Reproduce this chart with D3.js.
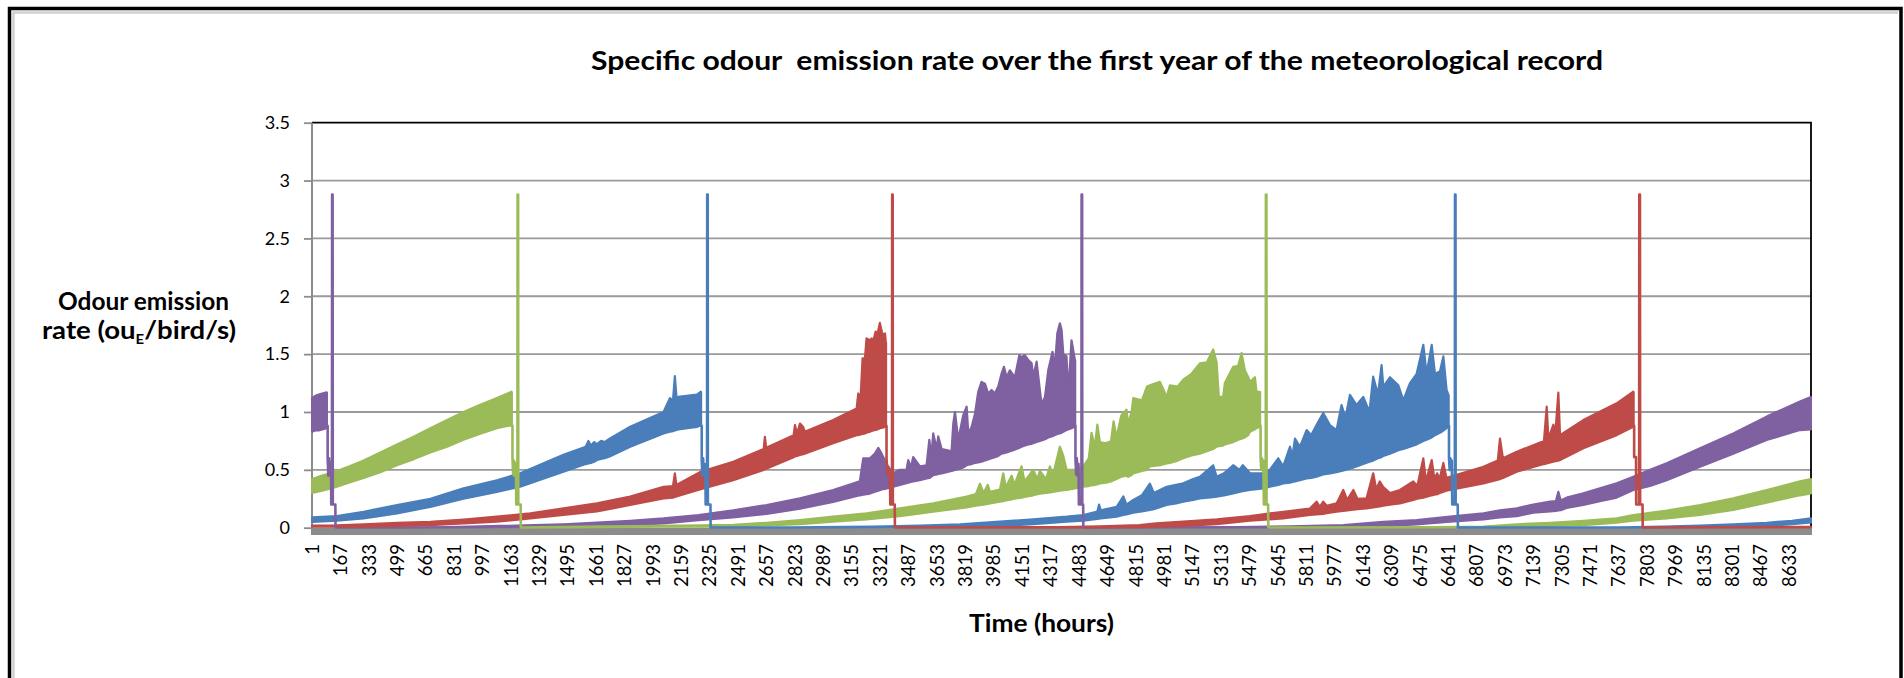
<!DOCTYPE html>
<html><head><meta charset="utf-8">
<script src="https://cdn.jsdelivr.net/npm/d3@7"></script>
<style>html,body{margin:0;padding:0;background:#fff;overflow:hidden}</style>
</head><body><svg id="c" width="1904" height="678"></svg>
<script>
// ---------------- DATA ----------------
const hourCount = 8760;
const hourTickLabels = [1,167,333,499,665,831,997,1163,1329,1495,1661,1827,1993,2159,2325,2491,2657,2823,2989,3155,3321,3487,3653,3819,3985,4151,4317,4483,4649,4815,4981,5147,5313,5479,5645,5811,5977,6143,6309,6475,6641,6807,6973,7139,7305,7471,7637,7803,7969,8135,8301,8467,8633];
const yTickValues = [0,0.5,1,1.5,2,2.5,3,3.5];
const seriesNames = ["Purple", "Green", "Blue", "Red"];
const seriesColors = {Purple:"#7f60a1", Green:"#9bbb59", Blue:"#4a7ebb", Red:"#be4b48"};

// bands: [hour, lower envelope, upper envelope] of the daily oscillation
const purpleBand1 = [[1,0.83,1.12],[20,0.84,1.14],[40,0.84,1.15],[60,0.85,1.16],[86,0.86,1.17]];
const purpleBand2 = [[140,0,0.002],[500,0.001,0.004],[800,0.002,0.006],[1100,0.005,0.015],[1300,0.008,0.022],[1470,0.009,0.03],[1665,0.014,0.045],[1860,0.023,0.06],[2055,0.037,0.08],[2260,0.065,0.11],[2462,0.09,0.15],[2657,0.12,0.196],[2852,0.165,0.253],[3046,0.222,0.326],[3202,0.28,0.40],
 [3222,0.285,0.60],[3241,0.29,0.60],[3261,0.295,0.60],[3290,0.31,0.64],[3310,0.32,0.69],[3329,0.33,0.64],[3349,0.335,0.58],[3358,0.34,0.55],[3397,0.354,0.47],[3436,0.37,0.50],[3475,0.385,0.50],[3485,0.39,0.585],[3500,0.395,0.52],[3514,0.40,0.61],[3553,0.41,0.53],[3592,0.425,0.54],[3608,0.43,0.76],[3620,0.44,0.62],[3631,0.455,0.815],[3651,0.46,0.68],[3660,0.465,0.79],[3680,0.47,0.68],[3709,0.48,0.67],[3738,0.49,0.66],[3748,0.495,0.90],[3758,0.50,1.0],[3777,0.505,0.76],[3806,0.52,0.97],[3826,0.54,1.046],[3836,0.545,0.815],[3855,0.55,0.87],[3875,0.56,0.985],[3894,0.565,1.175],[3913,0.57,1.26],[3933,0.58,1.245],[3952,0.59,1.16],[3972,0.60,1.19],[3991,0.61,1.16],[4011,0.62,1.22],[4030,0.64,1.33],[4044,0.645,1.39],[4060,0.65,1.30],[4079,0.66,1.36],[4108,0.675,1.30],[4134,0.69,1.49],[4147,0.70,1.475],[4167,0.71,1.49],[4186,0.72,1.45],[4206,0.725,1.42],[4215,0.73,1.30],[4235,0.74,1.435],[4254,0.75,1.19],[4264,0.755,1.07],[4284,0.765,1.13],[4303,0.78,1.36],[4328,0.79,1.52],[4342,0.80,1.39],[4356,0.81,1.68],[4371,0.815,1.766],[4381,0.82,1.71],[4391,0.83,1.50],[4410,0.844,1.48],[4420,0.85,1.16],[4439,0.86,1.62],[4453,0.87,1.50],[4459,0.873,1.45]];
const purpleBand3 = [[4508,0,0.002],[5400,0.002,0.005],[5715,0.003,0.012],[6027,0.005,0.023],[6261,0.014,0.05],[6456,0.029,0.066],[6651,0.052,0.095],[6846,0.072,0.124],[6942,0.09,0.15],[7041,0.10,0.167],[7137,0.13,0.20],[7236,0.14,0.225],[7270,0.145,0.23],[7284,0.15,0.31],[7298,0.152,0.235],[7332,0.17,0.26],[7430,0.196,0.297],[7527,0.23,0.34],[7625,0.26,0.383],[7722,0.326,0.44],[7820,0.36,0.50],[7917,0.41,0.556],[8112,0.527,0.686],[8306,0.64,0.815],[8501,0.758,0.96],[8696,0.844,1.09],[8760,0.85,1.13]];

const greenBand1 = [[1,0.30,0.42],[60,0.32,0.45],[146,0.355,0.49],[220,0.39,0.53],[302,0.43,0.58],[400,0.48,0.65],[497,0.54,0.72],[600,0.595,0.79],[692,0.65,0.86],[790,0.70,0.93],[886,0.76,1.0],[980,0.81,1.06],[1081,0.86,1.12],[1167,0.887,1.175]];
const greenBand2 = [[1221,0,0.003],[1450,0.003,0.008],[1700,0.005,0.012],[2000,0.008,0.016],[2267,0.01,0.02],[2462,0.012,0.025],[2657,0.02,0.043],[2852,0.03,0.066],[3046,0.052,0.095],[3241,0.072,0.124],[3436,0.10,0.167],[3631,0.138,0.21],[3826,0.176,0.27],[3880,0.19,0.29],[3904,0.195,0.38],[3925,0.20,0.30],[3950,0.205,0.37],[3962,0.21,0.31],[4021,0.225,0.33],[4040,0.23,0.47],[4055,0.235,0.35],[4089,0.245,0.45],[4105,0.25,0.37],[4147,0.26,0.53],[4165,0.265,0.40],[4215,0.28,0.50],[4240,0.29,0.42],[4254,0.295,0.49],[4290,0.30,0.42],[4313,0.305,0.53],[4330,0.31,0.45],[4371,0.32,0.70],[4391,0.325,0.62],[4410,0.326,0.50],[4459,0.34,0.50],[4508,0.354,0.53],[4540,0.36,0.60],[4556,0.365,0.82],[4575,0.37,0.70],[4590,0.375,0.89],[4605,0.383,0.74],[4640,0.39,0.73],[4670,0.40,0.75],[4685,0.41,0.92],[4702,0.42,0.78],[4730,0.44,0.97],[4760,0.45,1.02],[4770,0.44,0.90],[4790,0.455,1.0],[4800,0.47,1.12],[4850,0.49,1.10],[4880,0.50,1.22],[4897,0.53,1.23],[4956,0.54,1.26],[4995,0.556,1.13],[5014,0.56,1.23],[5060,0.58,1.22],[5092,0.60,1.28],[5140,0.625,1.33],[5189,0.64,1.42],[5230,0.66,1.43],[5267,0.68,1.54],[5287,0.70,1.43],[5300,0.705,1.13],[5325,0.71,1.13],[5335,0.72,1.25],[5384,0.74,1.39],[5413,0.76,1.40],[5433,0.77,1.51],[5452,0.78,1.36],[5472,0.80,1.30],[5482,0.83,1.26],[5511,0.85,1.30],[5520,0.86,1.175],[5540,0.873,1.175]];
const greenBand3 = [[5589,0,0.002],[6554,0.002,0.005],[6846,0.004,0.01],[7041,0.01,0.03],[7236,0.015,0.043],[7430,0.023,0.06],[7625,0.043,0.08],[7722,0.06,0.11],[7917,0.08,0.147],[8112,0.11,0.196],[8306,0.153,0.253],[8501,0.216,0.326],[8696,0.28,0.40],[8760,0.297,0.42]];

const blueBand1 = [[1,0.05,0.09],[146,0.06,0.10],[302,0.08,0.138],[497,0.124,0.196],[692,0.18,0.25],[886,0.25,0.34],[1081,0.31,0.41],[1217,0.354,0.47],[1470,0.484,0.63],[1600,0.55,0.70],[1616,0.555,0.75],[1630,0.56,0.71],[1650,0.57,0.74],[1665,0.585,0.72],[1690,0.595,0.75],[1710,0.60,0.74],[1740,0.615,0.77],[1860,0.70,0.873],[2055,0.815,1.0],[2092,0.83,1.12],[2110,0.835,1.10],[2121,0.84,1.31],[2131,0.845,1.12],[2141,0.85,1.13],[2250,0.87,1.15],[2273,0.887,1.175]];
const blueBand2 = [[2330,0,0.003],[2800,0.001,0.004],[3280,0.005,0.01],[3553,0.008,0.018],[3787,0.012,0.03],[4021,0.015,0.052],[4216,0.03,0.072],[4411,0.052,0.095],[4508,0.06,0.11],[4590,0.075,0.14],[4600,0.078,0.20],[4610,0.08,0.15],[4703,0.095,0.18],[4742,0.11,0.27],[4760,0.115,0.20],[4800,0.13,0.24],[4850,0.14,0.28],[4897,0.153,0.38],[4920,0.16,0.30],[4995,0.196,0.354],[5050,0.21,0.37],[5092,0.225,0.383],[5150,0.24,0.42],[5189,0.253,0.44],[5267,0.265,0.54],[5287,0.268,0.44],[5330,0.28,0.47],[5384,0.297,0.54],[5420,0.31,0.50],[5440,0.315,0.54],[5482,0.326,0.47],[5560,0.34,0.47],[5598,0.354,0.50],[5647,0.37,0.60],[5676,0.383,0.53],[5716,0.39,0.70],[5730,0.395,0.62],[5745,0.40,0.77],[5774,0.41,0.70],[5813,0.425,0.844],[5840,0.43,0.80],[5871,0.44,0.887],[5910,0.46,0.99],[5949,0.47,0.887],[5988,0.48,0.844],[6017,0.49,1.06],[6040,0.50,0.95],[6066,0.51,1.147],[6105,0.53,1.06],[6144,0.55,1.13],[6180,0.57,1.0],[6202,0.58,1.305],[6230,0.60,1.15],[6251,0.61,1.405],[6261,0.62,1.22],[6300,0.64,1.30],[6349,0.67,1.23],[6378,0.68,1.10],[6417,0.70,1.25],[6456,0.72,1.33],[6495,0.75,1.58],[6514,0.76,1.33],[6544,0.78,1.58],[6563,0.80,1.33],[6592,0.82,1.35],[6612,0.84,1.48],[6631,0.86,1.19],[6641,0.873,1.15]];
const blueBand3 = [[6697,0,0.003],[7644,0.001,0.004],[7900,0.004,0.01],[8112,0.008,0.018],[8306,0.01,0.03],[8501,0.015,0.043],[8650,0.03,0.06],[8760,0.045,0.08]];

const redBand1 = [[1,0.008,0.018],[146,0.01,0.02],[302,0.01,0.03],[497,0.015,0.043],[692,0.023,0.05],[886,0.037,0.07],[1081,0.052,0.095],[1276,0.08,0.124],[1470,0.11,0.167],[1665,0.14,0.21],[1860,0.196,0.27],[2055,0.253,0.354],[2110,0.26,0.36],[2121,0.265,0.47],[2130,0.27,0.37],[2267,0.33,0.48],[2462,0.41,0.57],[2640,0.50,0.68],[2647,0.505,0.786],[2655,0.51,0.69],[2815,0.61,0.80],[2823,0.615,0.887],[2835,0.62,0.81],[2852,0.628,0.90],[2871,0.635,0.87],[2880,0.64,0.83],[3046,0.73,0.93],[3183,0.80,1.03],[3193,0.80,1.16],[3205,0.805,1.08],[3218,0.81,1.464],[3232,0.815,1.464],[3241,0.82,1.636],[3261,0.83,1.62],[3271,0.835,1.636],[3280,0.84,1.61],[3294,0.845,1.694],[3306,0.85,1.68],[3319,0.86,1.77],[3335,0.865,1.665],[3349,0.87,1.68],[3354,0.873,1.60]];
const redBand2 = [[3407,0,0.002],[4371,0.001,0.005],[4600,0.003,0.012],[4836,0.005,0.023],[4933,0.008,0.037],[5092,0.015,0.052],[5287,0.03,0.072],[5482,0.06,0.10],[5676,0.08,0.138],[5832,0.11,0.165],[5871,0.115,0.225],[5890,0.118,0.18],[5910,0.12,0.225],[5930,0.125,0.19],[5988,0.138,0.21],[6027,0.145,0.326],[6050,0.15,0.24],[6086,0.155,0.326],[6110,0.16,0.25],[6163,0.167,0.253],[6202,0.175,0.47],[6220,0.18,0.33],[6240,0.185,0.40],[6261,0.19,0.35],[6300,0.20,0.30],[6358,0.21,0.326],[6436,0.24,0.40],[6460,0.25,0.36],[6495,0.26,0.60],[6510,0.265,0.40],[6544,0.28,0.585],[6560,0.285,0.42],[6576,0.29,0.47],[6590,0.30,0.42],[6612,0.31,0.56],[6630,0.32,0.43],[6651,0.326,0.44],[6846,0.383,0.527],[6930,0.415,0.58],[6943,0.42,0.77],[6960,0.43,0.60],[7041,0.484,0.657],[7200,0.55,0.75],[7216,0.555,1.046],[7226,0.56,0.77],[7255,0.57,0.89],[7265,0.575,0.79],[7284,0.58,1.167],[7294,0.585,0.80],[7430,0.686,0.93],[7625,0.80,1.075],[7722,0.873,1.175]];
const redBand3 = [[7777,0,0.002],[8760,0.003,0.008]];

// clean-out events: [hour, value]
const purpleCleanout1 = [[86,1.17],[86,0.88],[92,0.88],[92,0.60],[96,0.45],[100,0.60],[104,0.46],[108,0.56],[112,0.45],[113,0.20],[117,0.20],[118,2.88],[121,2.88],[122,0.20],[137,0.20],[138,0]];
const greenCleanout1 = [[1167,1.17],[1167,0.88],[1172,0.88],[1172,0.60],[1176,0.46],[1180,0.58],[1184,0.45],[1188,0.56],[1193,0.46],[1194,0.20],[1201,0.20],[1202,2.88],[1205,2.88],[1206,0.20],[1220,0.20],[1221,0]];
const blueCleanout1 = [[2273,1.17],[2273,0.88],[2278,0.88],[2278,0.58],[2282,0.45],[2286,0.60],[2291,0.46],[2295,0.55],[2300,0.45],[2301,0.20],[2309,0.20],[2310,2.88],[2313,2.88],[2314,0.20],[2329,0.20],[2330,0]];
const redCleanout1 = [[3354,1.60],[3354,0.88],[3358,0.88],[3358,0.60],[3363,0.47],[3368,0.52],[3373,0.45],[3378,0.47],[3380,0.20],[3390,0.20],[3391,2.88],[3394,2.88],[3395,0.20],[3406,0.20],[3407,0]];
const purpleCleanout2 = [[4459,1.45],[4459,0.88],[4462,0.88],[4462,0.60],[4466,0.46],[4470,0.60],[4475,0.45],[4480,0.55],[4482,0.20],[4497,0.20],[4498,2.88],[4501,2.88],[4502,0.20],[4507,0.20],[4508,0]];
const greenCleanout2 = [[5540,1.175],[5540,0.88],[5544,0.88],[5544,0.60],[5548,0.50],[5552,0.60],[5556,0.50],[5560,0.58],[5563,0.20],[5574,0.20],[5575,2.88],[5578,2.88],[5579,0.20],[5588,0.20],[5589,0]];
const blueCleanout2 = [[6641,1.15],[6641,0.88],[6645,0.88],[6645,0.60],[6649,0.50],[6653,0.60],[6657,0.50],[6661,0.58],[6664,0.20],[6679,0.20],[6680,2.88],[6683,2.88],[6684,0.20],[6696,0.20],[6697,0]];
const redCleanout2 = [[7722,1.175],[7722,0.88],[7727,0.88],[7727,0.61],[7738,0.61],[7739,0.20],[7756,0.20],[7757,2.88],[7761,2.88],[7762,0.20],[7776,0.20],[7777,0]];

const bands = [
  {s:"Purple", d:purpleBand1},{s:"Purple", d:purpleBand2},{s:"Purple", d:purpleBand3},
  {s:"Green", d:greenBand1},{s:"Green", d:greenBand2},{s:"Green", d:greenBand3},
  {s:"Blue", d:blueBand1},{s:"Blue", d:blueBand2},{s:"Blue", d:blueBand3},
  {s:"Red", d:redBand1},{s:"Red", d:redBand2},{s:"Red", d:redBand3}
];
const cleanouts = [
  {s:"Purple", d:purpleCleanout1},{s:"Green", d:greenCleanout1},{s:"Blue", d:blueCleanout1},{s:"Red", d:redCleanout1},
  {s:"Purple", d:purpleCleanout2},{s:"Green", d:greenCleanout2},{s:"Blue", d:blueCleanout2},{s:"Red", d:redCleanout2}
];

// ---------------- DRAWING ----------------
const svg = d3.select("#c");
const L = 312, R = 1811, T = 122.7, B = 527.7;
const x = d3.scaleLinear().domain([0.5, hourCount + 0.5]).range([L, R]);
const y = d3.scaleLinear().domain([0, 3.5]).range([B, T]);
const FONT = "Lato, 'Open Sans', sans-serif";

// outer frame
svg.append("path").attr("d","M13.5,680 L13.5,12.5 L1898,12.5").attr("fill","none").attr("stroke","#d0d0d0").attr("stroke-width",2.5);
svg.append("path").attr("d","M9.5,690 L9.5,8.5 L1901,8.5 L1901,690").attr("fill","none").attr("stroke","#000").attr("stroke-width",3.5);

// gridlines
svg.append("g").selectAll("line").data(yTickValues.filter(v => v > 0 && v < 3.5)).join("line")
  .attr("x1", L).attr("x2", R).attr("y1", d => y(d)).attr("y2", d => y(d))
  .attr("stroke", "#9a9a9a").attr("stroke-width", 1.8);
// plot border top/right
svg.append("path").attr("d", `M${L},${y(3.5)} L${R},${y(3.5)} L${R},${B}`).attr("fill","none").attr("stroke","#000").attr("stroke-width",1.8);

// y axis
const yAxis = d3.axisLeft(y).tickValues(yTickValues).tickSize(8).tickPadding(14).tickFormat(d3.format("~g"));
const ya = svg.append("g").attr("transform", `translate(${L},0)`).call(yAxis);
ya.select(".domain").attr("stroke","#8c8c8c").attr("stroke-width",2).attr("d", `M0,${T}V535`);
ya.selectAll(".tick line").attr("stroke","#8c8c8c").attr("stroke-width",1.8);
ya.selectAll(".tick text").attr("font-family", FONT).attr("font-size", 18).attr("fill","#000");

// x axis band
svg.append("rect").attr("x", L).attr("y", B).attr("width", R - L + 1).attr("height", 7.3).attr("fill", "#8c8c8c");

// x tick labels
const xa = svg.append("g");
xa.selectAll("text").data(hourTickLabels).join("text")
  .attr("transform", d => `translate(${x(d)},544) rotate(-90)`)
  .attr("text-anchor","end").attr("dy","0.36em")
  .attr("font-family", FONT).attr("font-size", 18.5).attr("fill","#000")
  .text(d => d);

// series bands
const area = d3.area().x(d => x(d[0])).y0(d => y(d[1])).y1(d => y(d[2]));
const line = d3.line().x(d => x(d[0])).y(d => y(d[1]));
const gS = svg.append("g");
gS.selectAll("path.band").data(bands).join("path").attr("class","band")
  .attr("d", b => area(b.d))
  .attr("fill", b => seriesColors[b.s]).attr("stroke", b => seriesColors[b.s])
  .attr("stroke-width", 2.2).attr("stroke-linejoin","round");
gS.selectAll("path.clean").data(cleanouts).join("path").attr("class","clean")
  .attr("d", c => line(c.d))
  .attr("fill","none").attr("stroke", c => seriesColors[c.s])
  .attr("stroke-width", 2.6).attr("stroke-linejoin","round");

// titles
svg.append("text").attr("x", 591).attr("y", 69.5).attr("font-family", FONT).attr("font-weight", 700)
  .attr("font-size", 26.5).attr("textLength", 1012).attr("lengthAdjust","spacingAndGlyphs")
  .style("white-space","pre")
  .text("Specific odour  emission rate over the first year of the meteorological record");

svg.append("text").attr("x", 58).attr("y", 310).attr("font-family", FONT).attr("font-weight", 700)
  .attr("font-size", 24).attr("textLength", 171).attr("lengthAdjust","spacingAndGlyphs")
  .text("Odour emission");
const t2 = svg.append("text").attr("x", 42).attr("y", 339).attr("font-family", FONT).attr("font-weight", 700)
  .attr("font-size", 24).attr("textLength", 194).attr("lengthAdjust","spacingAndGlyphs");
t2.append("tspan").text("rate (ou");
t2.append("tspan").attr("font-size", 13).attr("dy", 5).text("E");
t2.append("tspan").attr("dy", -5).text("/bird/s)");

svg.append("text").attr("x", 969).attr("y", 631.5).attr("font-family", FONT).attr("font-weight", 700)
  .attr("font-size", 24.5).attr("textLength", 145).attr("lengthAdjust","spacingAndGlyphs")
  .text("Time (hours)");
</script></body></html>
